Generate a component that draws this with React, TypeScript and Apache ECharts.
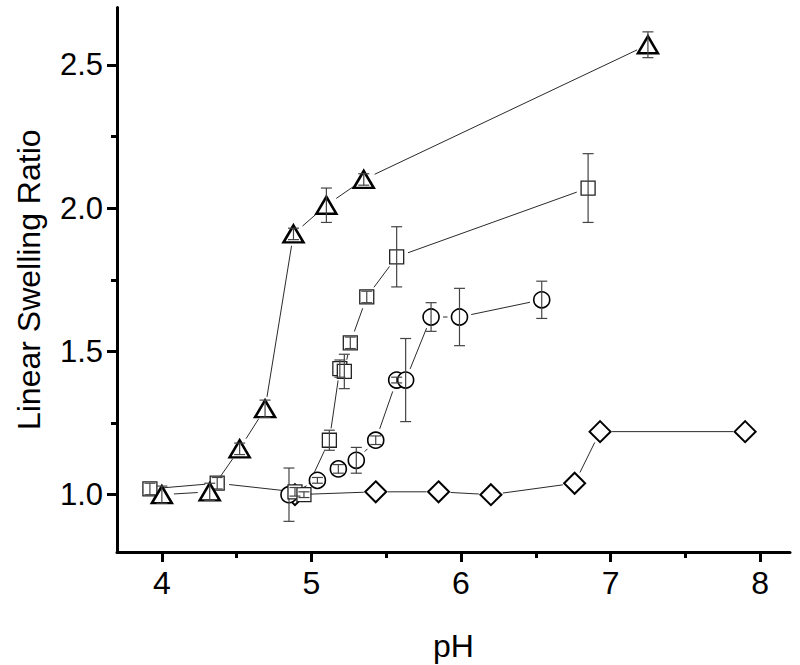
import React, { useEffect, useRef } from "react";
import * as echarts from "echarts";

// ---- data ----
const xTicks = [4, 5, 6, 7, 8];
const xMinorTicks = [4.5, 5.5, 6.5, 7.5];
const yTicks = [1.0, 1.5, 2.0, 2.5];
const yMinorTicks = [1.25, 1.75, 2.25];

const phTriangle = [4.0, 4.32, 4.52, 4.69, 4.88, 5.1, 5.35, 7.25];
const ratioTriangle = [1.0, 1.01, 1.16, 1.3, 1.91, 2.01, 2.1, 2.57];
const errTriangle = [0.03, 0.03, 0.02, 0.03, 0.02, 0.06, 0.02, 0.045];

const phSquare = [3.92, 4.37, 4.89, 4.95, 5.12, 5.19, 5.22, 5.26, 5.37, 5.57, 6.85];
const ratioSquare = [1.02, 1.04, 1.01, 1.0, 1.19, 1.44, 1.43, 1.53, 1.69, 1.83, 2.07];
const errSquare = [0.02, 0.02, 0.015, 0.01, 0.035, 0.03, 0.06, 0.02, 0.02, 0.105, 0.12];

const phCircle = [4.85, 5.04, 5.18, 5.3, 5.43, 5.57, 5.63, 5.8, 5.99, 6.54];
const ratioCircle = [1.0, 1.05, 1.09, 1.12, 1.19, 1.4, 1.4, 1.62, 1.62, 1.68];
const errCircle = [0.093, 0.01, 0.015, 0.045, 0.015, 0.01, 0.145, 0.05, 0.1, 0.065];

const phDiamond = [4.89, 5.43, 5.85, 6.2, 6.76, 6.93, 7.9];
const ratioDiamond = [1.0, 1.01, 1.01, 1.0, 1.04, 1.22, 1.22];

const FONT = "Liberation Sans, Arial, sans-serif";

function lineSeries(xs: number[], ys: number[], gap: number, z: number) {
  const data: number[][] = [];
  for (let i = 0; i < xs.length - 1; i++) data.push([xs[i], ys[i], xs[i + 1], ys[i + 1]]);
  return {
    type: "custom",
    silent: true,
    z,
    data,
    encode: { x: [0, 2], y: [1, 3] },
    renderItem: (_p: any, api: any) => {
      const p1 = api.coord([api.value(0), api.value(1)]);
      const p2 = api.coord([api.value(2), api.value(3)]);
      const dx = p2[0] - p1[0];
      const dy = p2[1] - p1[1];
      const len = Math.hypot(dx, dy);
      if (len <= 2 * gap + 1) return { type: "group", children: [] };
      const ux = dx / len;
      const uy = dy / len;
      return {
        type: "line",
        shape: {
          x1: p1[0] + ux * gap,
          y1: p1[1] + uy * gap,
          x2: p2[0] - ux * gap,
          y2: p2[1] - uy * gap,
        },
        style: { stroke: "#2a2a2a", lineWidth: 1 },
      };
    },
  };
}

function errorSeries(xs: number[], ys: number[], errs: number[], z: number) {
  return {
    type: "custom",
    silent: true,
    z,
    data: xs.map((x, i) => [x, ys[i] - errs[i], ys[i] + errs[i]]),
    encode: { x: 0, y: [1, 2] },
    renderItem: (_p: any, api: any) => {
      const lo = api.coord([api.value(0), api.value(1)]);
      const hi = api.coord([api.value(0), api.value(2)]);
      const w = 5.5;
      const st = { stroke: "#444", lineWidth: 1.2 };
      return {
        type: "group",
        children: [
          { type: "line", shape: { x1: lo[0], y1: lo[1], x2: hi[0], y2: hi[1] }, style: st },
          { type: "line", shape: { x1: lo[0] - w, y1: lo[1], x2: lo[0] + w, y2: lo[1] }, style: st },
          { type: "line", shape: { x1: hi[0] - w, y1: hi[1], x2: hi[0] + w, y2: hi[1] }, style: st },
        ],
      };
    },
  };
}

function scatterSeries(xs: number[], ys: number[], symbol: string, size: any, border: string, bw: number, z: number) {
  return {
    type: "scatter",
    silent: true,
    z,
    symbol,
    symbolSize: size,
    data: xs.map((x, i) => [x, ys[i]]),
    itemStyle: { color: "#ffffff", borderColor: border, borderWidth: bw, opacity: 1 },
  };
}

export default function App() {
  const ref = useRef<HTMLDivElement>(null);
  useEffect(() => {
    if (!ref.current) return;
    const chart = echarts.init(ref.current, undefined, { renderer: "svg" });
    const axisLine = { show: true, lineStyle: { color: "#000", width: 3 } };
    const xMin = 3.7, xMax = 8.2, yMin = 0.8, yMax = 2.7;
    chart.setOption({
      animation: false,
      backgroundColor: "#ffffff",
      grid: { left: 117, right: 10, top: 7.5, bottom: 113, containLabel: false, outerBoundsMode: "none" },
      xAxis: [
        {
          type: "value",
          min: xMin,
          max: xMax,
          position: "bottom",
          axisLine,
          splitLine: { show: false },
          axisTick: { show: true, customValues: xTicks, length: 10, lineStyle: { color: "#000", width: 3 } },
          axisLabel: { show: true, customValues: xTicks, fontSize: 32, color: "#000", fontFamily: FONT, margin: 15, formatter: (v: number) => String(v) },
          name: "pH",
          nameLocation: "middle",
          nameGap: 78,
          nameTextStyle: { fontSize: 32, color: "#000", fontFamily: FONT },
        },
        {
          type: "value",
          min: xMin,
          max: xMax,
          position: "bottom",
          axisLine: { show: false },
          splitLine: { show: false },
          axisTick: { show: true, customValues: xMinorTicks, length: 6, lineStyle: { color: "#000", width: 3 } },
          axisLabel: { show: false },
        },
      ],
      yAxis: [
        {
          type: "value",
          min: yMin,
          max: yMax,
          position: "left",
          axisLine,
          splitLine: { show: false },
          axisTick: { show: true, customValues: yTicks, length: 10, lineStyle: { color: "#000", width: 3 } },
          axisLabel: { show: true, customValues: yTicks, fontSize: 31, color: "#000", fontFamily: FONT, margin: 14, formatter: (v: number) => v.toFixed(1) },
          name: "Linear Swelling Ratio",
          nameLocation: "middle",
          nameGap: 72,
          nameRotate: 90,
          nameTextStyle: { fontSize: 32, color: "#000", fontFamily: FONT },
        },
        {
          type: "value",
          min: yMin,
          max: yMax,
          position: "left",
          axisLine: { show: false },
          splitLine: { show: false },
          axisTick: { show: true, customValues: yMinorTicks, length: 6, lineStyle: { color: "#000", width: 3 } },
          axisLabel: { show: false },
        },
      ],
      series: [
        lineSeries(phDiamond, ratioDiamond, 12, 2),
        lineSeries(phCircle, ratioCircle, 12, 2),
        lineSeries(phSquare, ratioSquare, 12, 2),
        lineSeries(phTriangle, ratioTriangle, 12, 2),
        scatterSeries(phDiamond, ratioDiamond, "diamond", [21, 21], "#000", 2, 3),
        scatterSeries(phCircle, ratioCircle, "circle", 16, "#000", 1.6, 5),
        errorSeries(phCircle, ratioCircle, errCircle, 6),
        scatterSeries(phSquare, ratioSquare, "rect", 14, "#222", 1.3, 7),
        errorSeries(phSquare, ratioSquare, errSquare, 8),
        scatterSeries(phTriangle, ratioTriangle, "triangle", [20, 17], "#000", 2.5, 9),
        errorSeries(phTriangle, ratioTriangle, errTriangle, 10),
      ],
    });
    return () => chart.dispose();
  }, []);
  return (
    <div
      ref={ref}
      style={{ position: "fixed", left: 0, top: 0, width: 800, height: 665, background: "#fff" }}
    />
  );
}
